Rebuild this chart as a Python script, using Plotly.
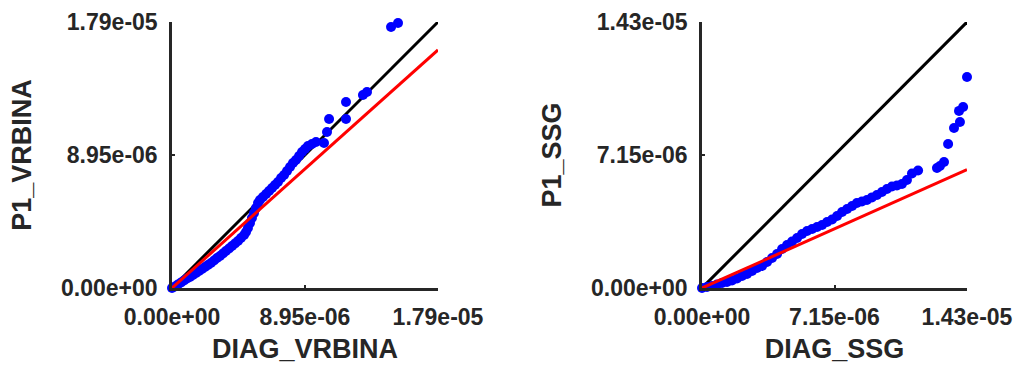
import plotly.graph_objects as go

# Quantile pairs, values in units of 1e-6
diag_vrbina = [0.00, 0.20, 0.40, 0.61, 0.81, 1.01, 1.21, 1.41, 1.62, 1.82, 2.02, 2.22,
               2.42, 2.62, 2.83, 3.03, 3.23, 3.43, 3.63, 3.84, 4.04, 4.24, 4.44, 4.64,
               4.85, 4.98, 5.11, 5.25, 5.38, 5.52, 5.65, 5.79, 5.92, 6.12, 6.33, 6.53,
               6.73, 6.93, 7.13, 7.34, 7.54, 7.74, 7.94, 8.14, 8.34, 8.55, 8.75, 8.95,
               9.15, 9.42, 9.69, 10.23, 10.43, 10.57, 11.71, 11.71, 12.85, 13.12,
               14.74, 15.21]
p1_vrbina = [0.00, 0.10, 0.24, 0.37, 0.50, 0.64, 0.74, 0.87, 1.01, 1.14, 1.28, 1.41,
             1.55, 1.68, 1.85, 2.02, 2.15, 2.32, 2.49, 2.66, 2.83, 2.99, 3.16, 3.36,
             3.57, 3.77, 4.04, 4.37, 4.71, 5.05, 5.38, 5.72, 5.92, 6.12, 6.33, 6.53,
             6.73, 6.93, 7.13, 7.40, 7.60, 7.87, 8.14, 8.41, 8.61, 8.88, 9.15, 9.35,
             9.56, 9.69, 9.83, 9.76, 10.50, 11.37, 11.37, 12.52, 12.99, 13.19,
             17.56, 17.83]

diag_ssg = [0.00, 0.27, 0.54, 0.81, 1.08, 1.35, 1.62, 1.89, 2.16, 2.43, 2.70, 2.97,
            3.24, 3.51, 3.78, 4.05, 4.32, 4.59, 4.86, 5.13, 5.40, 5.67, 5.94, 6.21,
            6.48, 6.75, 7.02, 7.29, 7.56, 7.83, 8.10, 8.36, 8.63, 8.90, 9.17, 9.44,
            9.71, 9.98, 10.25, 10.52, 10.79, 11.06, 11.33, 11.66, 12.68, 12.84,
            13.06, 13.28, 13.60, 13.87, 13.92, 14.09, 14.30]
p1_ssg = [0.00, 0.05, 0.11, 0.19, 0.27, 0.32, 0.40, 0.51, 0.65, 0.75, 0.91, 1.08,
          1.18, 1.40, 1.61, 1.83, 2.10, 2.31, 2.50, 2.69, 2.90, 3.06, 3.17, 3.28,
          3.39, 3.55, 3.68, 3.87, 4.09, 4.25, 4.41, 4.57, 4.65, 4.73, 4.87, 5.00,
          5.16, 5.32, 5.46, 5.51, 5.59, 5.81, 6.16, 6.32, 6.45, 6.56, 6.77, 7.74,
          8.60, 9.52, 8.92, 9.73, 11.34]

# Axis limits and fitted reference slopes
max_vrbina = 17.9
max_ssg = 14.3
fit_slope_vrbina = 0.895
fit_slope_ssg = 0.445

tick_text_vrbina = ["0.00e+00", "8.95e-06", "1.79e-05"]
tick_text_ssg = ["0.00e+00", "7.15e-06", "1.43e-05"]

E = 1e-6
W, H = 1019, 365
INK = "#262626"
FONT = "Liberation Sans"


def panel(fig, xs, ys, vmax, slope, xa, ya):
    xr = [0, vmax * E]
    fig.add_trace(go.Scatter(x=xr, y=xr, mode="lines",
                             line=dict(color="black", width=3),
                             xaxis=xa, yaxis=ya, cliponaxis=False, hoverinfo="skip"))
    fig.add_trace(go.Scatter(x=[v * E for v in xs], y=[v * E for v in ys], mode="markers",
                             marker=dict(color="#0000ff", size=10, line=dict(width=0)),
                             xaxis=xa, yaxis=ya, cliponaxis=False))
    fig.add_trace(go.Scatter(x=xr, y=[0, slope * vmax * E], mode="lines",
                             line=dict(color="#ff0000", width=3),
                             xaxis=xa, yaxis=ya, cliponaxis=False, hoverinfo="skip"))


fig = go.Figure()
panel(fig, diag_vrbina, p1_vrbina, max_vrbina, fit_slope_vrbina, "x", "y")
panel(fig, diag_ssg, p1_ssg, max_ssg, fit_slope_ssg, "x2", "y2")

ydom = [1 - 288 / H, 1 - 22 / H]


def axis(domain, vmax, ticktext, title, anchor, standoff, is_y):
    return dict(
        domain=domain, anchor=anchor, range=[0, vmax * E],
        tickvals=[0, vmax * E / 2, vmax * E], ticktext=ticktext,
        ticks="inside", ticklen=3, tickwidth=2, tickcolor=INK,
        showline=True, linecolor=INK, linewidth=2.5, mirror=False,
        showgrid=False, zeroline=False, automargin=False,
        tickfont=dict(family=FONT, size=23, color=INK, weight="bold"),
        ticklabelstandoff=7 if is_y else 7,
        title=dict(text=title, standoff=standoff,
                   font=dict(family=FONT, size=27, color=INK, weight="bold")),
        fixedrange=True,
    )


fig.update_layout(
    width=W, height=H,
    margin=dict(l=0, r=0, t=0, b=0),
    paper_bgcolor="white", plot_bgcolor="white",
    showlegend=False,
    xaxis=axis([172 / W, 438 / W], max_vrbina, tick_text_vrbina, "DIAG_VRBINA", "y", 10, False),
    yaxis=axis(ydom, max_vrbina, tick_text_vrbina, "P1_VRBINA", "x", 22, True),
    xaxis2=axis([702 / W, 967 / W], max_ssg, tick_text_ssg, "DIAG_SSG", "y2", 10, False),
    yaxis2=axis(ydom, max_ssg, tick_text_ssg, "P1_SSG", "x2", 22, True),
)

fig.write_html("out.html")
